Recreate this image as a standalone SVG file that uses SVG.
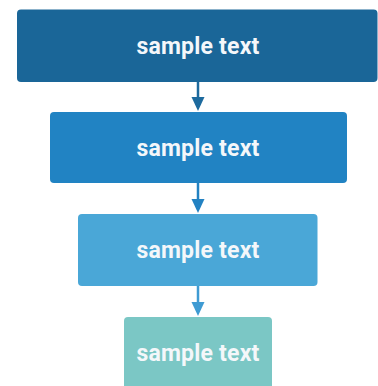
<svg xmlns="http://www.w3.org/2000/svg" width="378" height="386" viewBox="0 0 378 386">
<defs>
<style>
.lbl{font-family:Roboto,"Liberation Sans",Arial,sans-serif;font-weight:bold;font-size:23px;fill:#f4f7fa;text-anchor:middle;letter-spacing:0.2px}
.ln{stroke-width:2.5;fill:none}
</style>
</defs>
<rect width="378" height="386" fill="#ffffff"/>
<g id="connectors">
<line class="ln" x1="198" y1="82" x2="198" y2="99" stroke="#1d6a9e"/>
<polygon points="191.5,97 204.5,97 198,111" fill="#1d6a9e"/>
<line class="ln" x1="198" y1="183" x2="198" y2="200" stroke="#2382c2"/>
<polygon points="191.5,199 204.5,199 198,213" fill="#2382c2"/>
<line class="ln" x1="198" y1="286" x2="198" y2="303" stroke="#3f9bd3"/>
<polygon points="191.5,302 204.5,302 198,316" fill="#3f9bd3"/>
</g>
<g id="node1">
<rect x="17" y="9.5" width="360.5" height="72.5" rx="4" fill="#1a6698"/>
<text class="lbl" x="198" y="53.5">sample text</text>
</g>
<g id="node2">
<rect x="50" y="112" width="297" height="71" rx="4" fill="#2183c3"/>
<text class="lbl" x="198" y="155.5">sample text</text>
</g>
<g id="node3">
<rect x="78" y="214" width="239.5" height="72" rx="4" fill="#4aa7d7"/>
<text class="lbl" x="198" y="258">sample text</text>
</g>
<g id="node4">
<rect x="124" y="317" width="148" height="75" rx="4" fill="#7bc7c5"/>
<text class="lbl" x="198" y="360.5">sample text</text>
</g>
</svg>
